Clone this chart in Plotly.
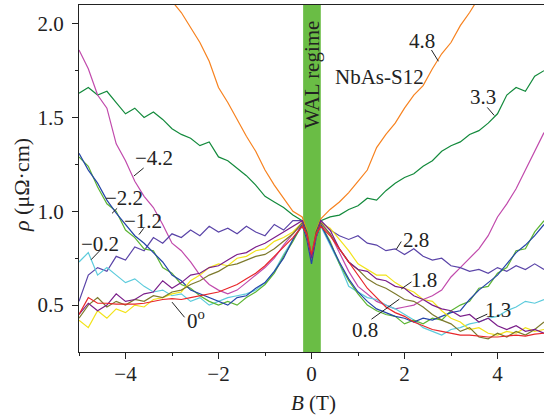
import plotly.graph_objects as go

B = [-5.0, -4.8, -4.6, -4.4, -4.2, -4.0, -3.8, -3.6, -3.4, -3.2, -3.0, -2.8, -2.6, -2.4, -2.2, -2.0,
     -1.8, -1.6, -1.4, -1.2, -1.0, -0.8, -0.6, -0.4, -0.2, -0.1, 0.0, 0.1, 0.2, 0.4, 0.6, 0.8,
     1.0, 1.2, 1.4, 1.6, 1.8, 2.0, 2.2, 2.4, 2.6, 2.8, 3.0, 3.2, 3.4, 3.6, 3.8, 4.0, 4.2, 4.4,
     4.6, 4.8, 5.0]

rho_orange = [3.20, 3.10, 3.00, 2.90, 2.80, 2.68, 2.57, 2.46, 2.35, 2.24, 2.12, 2.06, 1.98, 1.90, 1.80, 1.66,
              1.58, 1.49, 1.40, 1.32, 1.22, 1.14, 1.07, 1.00, 0.97, 0.90, 0.76, 0.90, 0.96, 1.01, 1.05, 1.10,
              1.16, 1.22, 1.34, 1.41, 1.47, 1.55, 1.62, 1.67, 1.76, 1.84, 1.90, 1.99, 2.06, 2.14, 2.24, 2.33,
              2.42, 2.52, 2.62, 2.72, 2.82]
rho_dgreen = [1.63, 1.66, 1.62, 1.64, 1.58, 1.52, 1.55, 1.50, 1.53, 1.49, 1.44, 1.41, 1.39, 1.35, 1.37, 1.29,
              1.27, 1.23, 1.19, 1.14, 1.08, 1.05, 1.02, 0.98, 0.95, 0.89, 0.76, 0.89, 0.95, 0.97, 0.98, 1.01,
              1.03, 1.07, 1.06, 1.11, 1.15, 1.18, 1.20, 1.24, 1.27, 1.32, 1.35, 1.37, 1.41, 1.43, 1.47, 1.52,
              1.62, 1.66, 1.64, 1.72, 1.75]
rho_magenta = [1.86, 1.76, 1.62, 1.55, 1.36, 1.27, 1.16, 1.08, 1.02, 0.93, 0.83, 0.79, 0.73, 0.66, 0.61, 0.58,
               0.56, 0.58, 0.62, 0.66, 0.70, 0.75, 0.82, 0.88, 0.93, 0.87, 0.76, 0.87, 0.93, 0.88, 0.78, 0.68,
               0.60, 0.56, 0.52, 0.50, 0.48, 0.49, 0.50, 0.53, 0.55, 0.58, 0.65, 0.70, 0.75, 0.80, 0.87, 0.97,
               1.04, 1.12, 1.22, 1.32, 1.42]
rho_indigo = [0.52, 0.66, 0.70, 0.68, 0.76, 0.74, 0.81, 0.79, 0.86, 0.83, 0.88, 0.86, 0.90, 0.87, 0.92, 0.89,
              0.91, 0.88, 0.92, 0.89, 0.87, 0.93, 0.90, 0.95, 0.95, 0.87, 0.75, 0.87, 0.95, 0.90, 0.87, 0.85,
              0.87, 0.83, 0.82, 0.79, 0.80, 0.77, 0.80, 0.76, 0.74, 0.75, 0.71, 0.70, 0.68, 0.69, 0.67, 0.70,
              0.68, 0.71, 0.69, 0.72, 0.69]
rho_cyan = [0.73, 0.78, 0.66, 0.70, 0.66, 0.62, 0.64, 0.60, 0.57, 0.58, 0.55, 0.56, 0.52, 0.54, 0.50, 0.52,
            0.54, 0.55, 0.56, 0.58, 0.62, 0.68, 0.77, 0.85, 0.92, 0.86, 0.75, 0.86, 0.92, 0.82, 0.72, 0.60,
            0.57, 0.54, 0.53, 0.50, 0.48, 0.45, 0.42, 0.38, 0.36, 0.34, 0.37, 0.38, 0.40, 0.41, 0.43, 0.44,
            0.47, 0.49, 0.52, 0.51, 0.53]
rho_lgreen = [1.29, 1.24, 1.13, 1.04, 1.00, 0.90, 0.86, 0.80, 0.79, 0.70, 0.67, 0.61, 0.59, 0.55, 0.52, 0.50,
              0.52, 0.50, 0.54, 0.57, 0.61, 0.67, 0.76, 0.84, 0.93, 0.86, 0.74, 0.86, 0.93, 0.84, 0.72, 0.63,
              0.56, 0.50, 0.47, 0.45, 0.44, 0.40, 0.42, 0.40, 0.43, 0.42, 0.47, 0.50, 0.52, 0.59, 0.60, 0.67,
              0.70, 0.79, 0.80, 0.89, 0.95]
rho_blue = [1.31, 1.22, 1.15, 1.06, 0.99, 0.93, 0.87, 0.83, 0.78, 0.73, 0.66, 0.63, 0.58, 0.56, 0.54, 0.52,
            0.50, 0.54, 0.55, 0.59, 0.62, 0.68, 0.75, 0.85, 0.93, 0.85, 0.72, 0.86, 0.93, 0.83, 0.73, 0.64,
            0.57, 0.52, 0.48, 0.46, 0.44, 0.43, 0.41, 0.43, 0.42, 0.44, 0.46, 0.47, 0.53, 0.58, 0.62, 0.66,
            0.72, 0.78, 0.82, 0.87, 0.93]
rho_yellow = [0.42, 0.38, 0.47, 0.43, 0.48, 0.46, 0.50, 0.49, 0.53, 0.54, 0.56, 0.57, 0.63, 0.66, 0.70, 0.72,
              0.71, 0.75, 0.76, 0.79, 0.80, 0.84, 0.86, 0.89, 0.94, 0.87, 0.76, 0.87, 0.94, 0.91, 0.85, 0.79,
              0.72, 0.69, 0.66, 0.66, 0.62, 0.59, 0.57, 0.53, 0.52, 0.47, 0.43, 0.41, 0.37, 0.38, 0.35, 0.34,
              0.36, 0.35, 0.38, 0.36, 0.37]
rho_olive = [0.43, 0.50, 0.54, 0.49, 0.52, 0.50, 0.53, 0.52, 0.55, 0.54, 0.57, 0.58, 0.61, 0.63, 0.66, 0.68,
             0.71, 0.72, 0.74, 0.76, 0.77, 0.80, 0.84, 0.88, 0.94, 0.87, 0.76, 0.87, 0.94, 0.88, 0.80, 0.73,
             0.69, 0.64, 0.61, 0.59, 0.56, 0.53, 0.52, 0.49, 0.45, 0.42, 0.40, 0.36, 0.38, 0.33, 0.32, 0.35,
             0.33, 0.36, 0.34, 0.37, 0.41]
rho_dpurple = [0.45, 0.51, 0.47, 0.50, 0.56, 0.52, 0.53, 0.56, 0.57, 0.63, 0.59, 0.62, 0.66, 0.67, 0.70, 0.71,
               0.74, 0.77, 0.78, 0.81, 0.83, 0.86, 0.89, 0.92, 0.95, 0.87, 0.75, 0.87, 0.95, 0.90, 0.80, 0.73,
               0.69, 0.68, 0.64, 0.63, 0.60, 0.59, 0.55, 0.53, 0.50, 0.48, 0.47, 0.44, 0.45, 0.41, 0.43, 0.39,
               0.37, 0.39, 0.36, 0.37, 0.35]
rho_red = [0.45, 0.54, 0.51, 0.51, 0.505, 0.505, 0.505, 0.51, 0.52, 0.53, 0.535, 0.53, 0.54, 0.55, 0.56, 0.57,
           0.59, 0.61, 0.64, 0.67, 0.71, 0.76, 0.81, 0.86, 0.92, 0.88, 0.77, 0.88, 0.92, 0.87, 0.80, 0.73,
           0.66, 0.59, 0.54, 0.49, 0.46, 0.44, 0.41, 0.39, 0.37, 0.36, 0.35, 0.34, 0.34, 0.335, 0.33, 0.33,
           0.335, 0.34, 0.335, 0.345, 0.35]

series = [
    ("orange", rho_orange, "#f7821f"),
    ("dgreen", rho_dgreen, "#138a3c"),
    ("magenta", rho_magenta, "#c14aac"),
    ("indigo", rho_indigo, "#5a44a8"),
    ("cyan", rho_cyan, "#5ccbdc"),
    ("lgreen", rho_lgreen, "#5cb533"),
    ("blue", rho_blue, "#2545a8"),
    ("yellow", rho_yellow, "#f2e31a"),
    ("olive", rho_olive, "#7d7a2d"),
    ("dpurple", rho_dpurple, "#7a1e8a"),
    ("red", rho_red, "#e8262a"),
]

# curve labels: text, text position, leader start, leader end (data coords)
labels = [
    ("4.8", (2.38, 1.909), (2.58, 1.86), (2.73, 1.80)),
    ("3.3", (3.69, 1.61), (3.78, 1.554), (3.93, 1.511)),
    ("\u22124.2", (-3.39, 1.285), (-3.61, 1.231), (-3.82, 1.188)),
    ("\u22122.2", (-4.03, 1.07), (-4.18, 1.016), (-4.29, 0.989)),
    ("\u22121.2", (-3.63, 0.946), (-3.61, 0.909), (-3.71, 0.876)),
    ("\u22120.2", (-4.55, 0.828), (-4.53, 0.796), (-4.74, 0.742)),
    ("0<sup>o</sup>", (-2.49, 0.425), (-3.0, 0.516), (-2.73, 0.435)),
    ("2.8", (2.25, 0.849), (1.93, 0.839), (1.82, 0.796)),
    ("1.8", (2.42, 0.634), (2.15, 0.624), (1.93, 0.586)),
    ("1.3", (4.01, 0.473), (3.78, 0.452), (3.54, 0.425)),
    ("0.8", (1.16, 0.366), (1.29, 0.425), (1.89, 0.532)),
]

FONT = "Liberation Serif"
fig = go.Figure()

fig.add_shape(type="rect", xref="x", yref="paper", x0=-0.18, x1=0.2, y0=0, y1=1,
              fillcolor="#6abd45", line_width=0, layer="below")

for name, ys, col in series:
    fig.add_trace(go.Scatter(x=B, y=ys, mode="lines", name=name,
                             line=dict(color=col, width=1.2), showlegend=False))

for txt, (tx, ty), (x0, y0), (x1, y1) in labels:
    fig.add_annotation(x=tx, y=ty, text=txt, showarrow=False,
                       font=dict(family=FONT, size=21, color="#222"))
    fig.add_shape(type="line", x0=x0, y0=y0, x1=x1, y1=y1,
                  line=dict(color="#222", width=1))

fig.add_annotation(x=0.02, y=1.73, text="WAL regime", textangle=-90, showarrow=False,
                   font=dict(family=FONT, size=21, color="#222"))
fig.add_annotation(x=1.46, y=1.715, text="NbAs-S12", showarrow=False,
                   font=dict(family=FONT, size=21, color="#222"))

# axis titles
fig.add_annotation(xref="paper", yref="paper", x=-0.125, y=0.481, xanchor="center", yanchor="middle",
                   text="<i>\u03c1</i> (\u03bc\u03a9\u00b7cm)", textangle=-90, showarrow=False,
                   font=dict(family=FONT, size=22, color="#222"))
fig.add_annotation(xref="paper", yref="paper", x=0.505, y=-0.148, xanchor="center", yanchor="middle",
                   text="<i>B</i> (T)", showarrow=False,
                   font=dict(family=FONT, size=21, color="#222"))

axis_common = dict(showline=True, linecolor="#222", linewidth=1.2, mirror=True,
                   ticks="outside", ticklen=6, tickwidth=1, tickcolor="#222",
                   showgrid=False, zeroline=False,
                   tickfont=dict(family=FONT, size=21, color="#222"))

fig.update_xaxes(range=[-5, 5], tickvals=[-4, -2, 0, 2, 4], ticklabelstandoff=-3,
                 minor=dict(tickvals=[-5, -3, -1, 1, 3, 5], ticklen=3, ticks="outside", tickcolor="#222"),
                 **axis_common)
fig.update_yaxes(range=[0.25, 2.1], tickvals=[0.5, 1.0, 1.5, 2.0], tickformat=".1f",
                 ticklabelstandoff=4,
                 minor=dict(tickvals=[0.75, 1.25, 1.75], ticklen=3, ticks="outside", tickcolor="#222"),
                 **axis_common)

fig.update_layout(width=544, height=416, margin=dict(l=79, r=0, t=5, b=64),
                  paper_bgcolor="white", plot_bgcolor="white")

fig.write_html("out.html")
